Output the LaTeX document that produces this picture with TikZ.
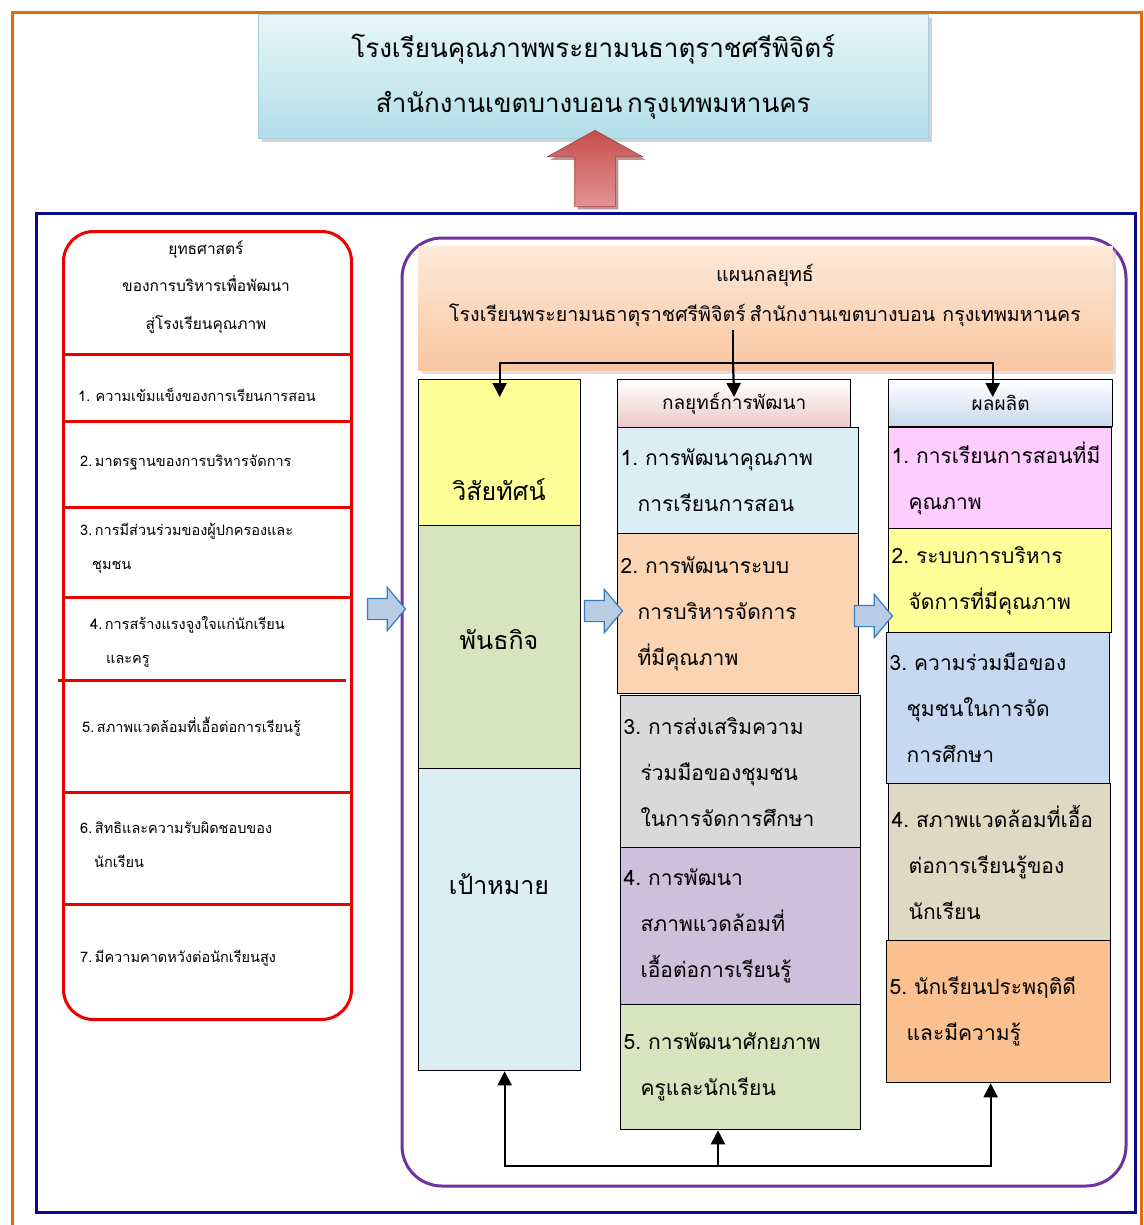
\documentclass[tikz,border=0pt]{standalone}
\usepackage{fontspec}
\setmainfont{Loma}[Script=Thai, WordSpace=0.55]
\usetikzlibrary{arrows.meta,shapes.arrows,shadows}
\frenchspacing

\definecolor{frameorange}{RGB}{228,108,10}
\definecolor{framenavy}{RGB}{10,10,140}
\definecolor{framepurple}{RGB}{112,48,160}
\definecolor{stratred}{RGB}{235,0,0}
\definecolor{titletop}{RGB}{232,246,249}
\definecolor{titlebot}{RGB}{178,222,232}
\definecolor{plantop}{RGB}{253,233,217}
\definecolor{planbot}{RGB}{249,198,160}
\definecolor{arrowred}{RGB}{196,78,76}
\definecolor{arrowpink}{RGB}{226,148,146}
\definecolor{flowfill}{RGB}{184,204,228}
\definecolor{flowdraw}{RGB}{52,124,186}
\definecolor{cellyellow}{RGB}{255,255,153}
\definecolor{cellgreen}{RGB}{215,228,189}
\definecolor{cellblue}{RGB}{219,238,244}
\definecolor{cellpeach}{RGB}{251,212,180}
\definecolor{cellgray}{RGB}{217,217,217}
\definecolor{cellpurple}{RGB}{204,192,218}
\definecolor{cellpink}{RGB}{255,204,255}
\definecolor{cellsky}{RGB}{198,217,241}
\definecolor{celltan}{RGB}{221,217,195}
\definecolor{cellorange}{RGB}{250,192,144}
\definecolor{headpink}{RGB}{236,200,200}
\definecolor{headsky}{RGB}{200,216,236}

\tikzset{
    box/.style={draw=black, line width=1.3pt, anchor=north west, inner sep=0pt},
    cell/.style={box, inner xsep=3pt, align=left, font=\fontsize{21}{46}\selectfont},
    colhead/.style={box, font=\fontsize{19}{22}\selectfont},
    collabel/.style={font=\fontsize{25}{28}\selectfont},
    stratitem/.style={anchor=west, align=left, inner sep=0pt, font=\fontsize{14.5}{34}\selectfont},
    flow/.style={single arrow, draw=flowdraw, fill=flowfill, line width=1.2pt,
        minimum height=38pt, minimum width=42pt, single arrow head extend=11pt,
        single arrow tip angle=100, inner xsep=0pt, inner ysep=10pt},
    conn/.style={line width=2.2pt},
    arr/.style={conn, -{Triangle[length=14pt,width=14pt]}}
}

\newcommand{\ind}{\hspace*{17pt}}

\begin{document}
\begin{tikzpicture}[x=1pt,y=-1pt]
        \useasboundingbox (0,0) rectangle (1143,1225);
        \fill[white] (0,0) rectangle (1143,1225);

        \draw[frameorange, line width=3pt] (12,13) rectangle (1141,1240);

        \node[box, draw={rgb,255:red,168;green,208;blue,218}, line width=0.6pt,
            top color=titletop, bottom color=titlebot,
            drop shadow={shadow xshift=4pt, shadow yshift=-4pt, fill=black!35},
            minimum width=670pt, minimum height=124pt,
            align=center, font=\fontsize{26}{55}\selectfont] (title) at (258,14)
            {โรงเรียนคุณภาพพระยามนธาตุราชศรีพิจิตร์\\สำนักงานเขตบางบอน กรุงเทพมหานคร};

        \draw[framenavy, line width=3pt] (36,213) rectangle (1135,1212);

        \node[single arrow, shape border rotate=90, draw=arrowred!80!black, line width=0.6pt,
            top color=arrowred, bottom color=arrowpink,
            drop shadow={shadow xshift=3pt, shadow yshift=-3pt, fill=arrowred!60!black},
            minimum height=76pt, minimum width=95pt, single arrow head extend=27.5pt,
            single arrow tip angle=122, inner xsep=20pt, inner ysep=0pt] (uparrow) at (595,174) {};

        % left strategy box
        \node[box, draw=stratred, line width=3pt, rounded corners=30pt,
            minimum width=288pt, minimum height=788pt] (stratbox) at (62,230) {};
        \draw[stratred, line width=3pt] (62,354) -- (350,354);
        \draw[stratred, line width=3pt] (62,421) -- (350,421);
        \draw[stratred, line width=3pt] (62,507) -- (350,507);
        \draw[stratred, line width=3pt] (62,597) -- (350,597);
        \draw[stratred, line width=3pt] (58,680) -- (346,680);
        \draw[stratred, line width=3pt] (62,792) -- (350,792);
        \draw[stratred, line width=3pt] (62,904) -- (350,904);

        \node[align=center, font=\fontsize{15.5}{37.5}\selectfont] (strathead) at (206,287)
            {ยุทธศาสตร์\\ของการบริหารเพื่อพัฒนา\\สู่โรงเรียนคุณภาพ};
        \node[stratitem] (strat1) at (78,395) {1.\ \ ความเข้มแข็งของการเรียนการสอน};
        \node[stratitem] (strat2) at (80,463) {2. มาตรฐานของการบริหารจัดการ};
        \node[stratitem] (strat3) at (80,548) {3. การมีส่วนร่วมของผู้ปกครองและ\\\hspace*{12pt}ชุมชน};
        \node[stratitem] (strat4) at (90,642) {4. การสร้างแรงจูงใจแก่นักเรียน\\\hspace*{16pt}และครู};
        \node[stratitem] (strat5) at (82,727) {5. สภาพแวดล้อมที่เอื้อต่อการเรียนรู้};
        \node[stratitem] (strat6) at (80,845) {6. สิทธิและความรับผิดชอบของ\\\hspace*{14pt}นักเรียน};
        \node[stratitem] (strat7) at (80,958) {7. มีความคาดหวังต่อนักเรียนสูง};

        % strategic plan
        \draw[framepurple, line width=3pt, rounded corners=40pt] (402,238) rectangle (1126,1186);

        \node[box, draw=none, top color=plantop, bottom color=planbot,
            drop shadow={shadow xshift=3pt, shadow yshift=-3pt, fill=black!25},
            minimum width=694pt, minimum height=124pt] (plan) at (418,246) {};
        \node[align=center, font=\fontsize{19.6}{40}\selectfont] (plantext) at (765,295)
            {แผนกลยุทธ์\\โรงเรียนพระยามนธาตุราชศรีพิจิตร์ สำนักงานเขตบางบอน\ \ กรุงเทพมหานคร};

        \node[box, fill=cellyellow, minimum width=162pt, minimum height=146pt] (vision) at (418,379) {};
        \node[box, fill=cellgreen, minimum width=162pt, minimum height=243pt] (mission) at (418,525) {};
        \node[box, fill=cellblue, minimum width=162pt, minimum height=302pt] (goal) at (418,768) {};
        \node[collabel] (visionlabel) at (499,490) {วิสัยทัศน์};
        \node[collabel] (missionlabel) at (499,640) {พันธกิจ};
        \node[collabel] (goallabel) at (499,884) {เป้าหมาย};

        \node[colhead, top color=white, bottom color=headpink,
            minimum width=233pt, minimum height=48pt] (stratHead) at (617,379) {กลยุทธ์การพัฒนา};
        \node[cell, fill=cellblue, text width=235pt, minimum height=106pt] (dev1) at (617,427)
            {1. การพัฒนาคุณภาพ\\\ind การเรียนการสอน};
        \node[cell, fill=cellpeach, text width=235pt, minimum height=160pt] (dev2) at (617,533)
            {2. การพัฒนาระบบ\\\ind การบริหารจัดการ\\\ind ที่มีคุณภาพ};
        \node[cell, fill=cellgray, text width=234pt, minimum height=152pt] (dev3) at (620,695)
            {3. การส่งเสริมความ\\\ind ร่วมมือของชุมชน\\\ind ในการจัดการศึกษา};
        \node[cell, fill=cellpurple, text width=234pt, minimum height=157pt] (dev4) at (620,847)
            {4. การพัฒนา\\\ind สภาพแวดล้อมที่\\\ind เอื้อต่อการเรียนรู้};
        \node[cell, fill=cellgreen, text width=234pt, minimum height=125pt] (dev5) at (620,1004)
            {5. การพัฒนาศักยภาพ\\\ind ครูและนักเรียน};

        \node[colhead, top color=white, bottom color=headsky,
            minimum width=224pt, minimum height=47pt] (outHead) at (888,379) {ผลผลิต};
        \node[cell, fill=cellpink, text width=217pt, minimum height=101pt] (out1) at (888,427)
            {1. การเรียนการสอนที่มี\\\ind คุณภาพ};
        \node[cell, fill=cellyellow, text width=217pt, minimum height=104pt] (out2) at (888,528)
            {2. ระบบการบริหาร\\\ind จัดการที่มีคุณภาพ};
        \node[cell, fill=cellsky, text width=217pt, minimum height=151pt] (out3) at (886,632)
            {3. ความร่วมมือของ\\\ind ชุมชนในการจัด\\\ind การศึกษา};
        \node[cell, fill=celltan, text width=216pt, minimum height=157pt] (out4) at (888,783)
            {4. สภาพแวดล้อมที่เอื้อ\\\ind ต่อการเรียนรู้ของ\\\ind นักเรียน};
        \node[cell, fill=cellorange, text width=218pt, minimum height=142pt] (out5) at (886,940)
            {5. นักเรียนประพฤติดี\\\ind และมีความรู้};

        \node[flow] (flow1) at (382,609) {};
        \node[flow] (flow2) at (599,611) {};
        \node[flow] (flow3) at (869,616) {};

        \coordinate (fork) at (733,363);
        \draw[conn] (plantext.south -| fork) -- (fork);
        \draw[arr] (fork) -- ([yshift=-18pt]stratHead.north);
        \draw[arr] (fork) -| ([yshift=-18pt]vision.north);
        \draw[arr] (fork) -| ([xshift=-8pt,yshift=-18pt]outHead.north);

        \coordinate (loop) at (718,1166);
        \draw[arr] (loop) -- (dev5.south -| loop);
        \draw[arr] (loop) -| ([xshift=5pt]goal.south);
        \draw[arr] (loop) -| ([xshift=-8pt]out5.south);
    \end{tikzpicture}
\end{document}
